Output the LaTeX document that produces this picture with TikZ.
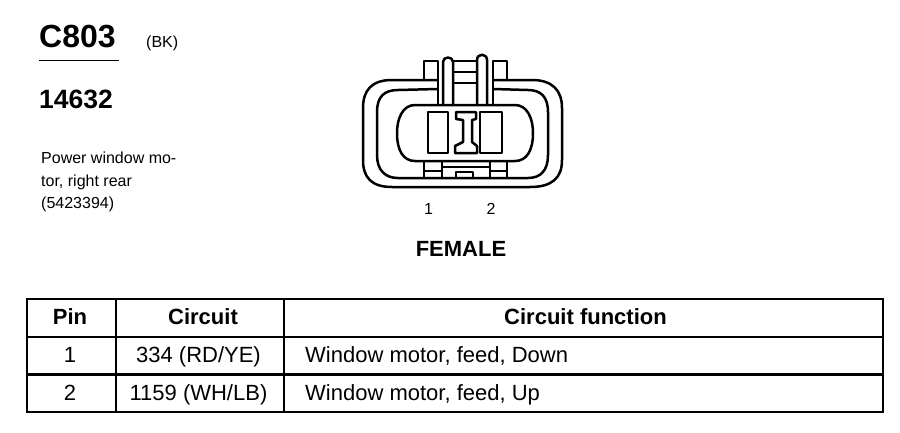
\documentclass[tikz,border=0pt]{standalone}
\usepackage{fontspec}
\setmainfont{Liberation Sans}
\tikzset{
  thick line/.style={line width=2.5pt,line join=round},
  cell/.style={anchor=base,inner sep=0pt,font=\fontsize{22}{24}\selectfont},
  head/.style={cell,font=\fontsize{22}{24}\selectfont\bfseries},
  rule/.style={line width=2.6pt},
  small/.style={anchor=base west,inner sep=0pt,font=\fontsize{16}{18}\selectfont},
}
\begin{document}
\begin{tikzpicture}[x=1pt,y=-1pt]
\useasboundingbox (0,0) rectangle (900,432);
\node[anchor=base west,inner sep=0pt,font=\fontsize{32}{34}\selectfont\bfseries] (title) at (39,47.500) {C803};
\node[small] (bk) at (146,47) {(BK)};
\coordinate (ta) at (39,60.5); \coordinate (tb) at (119,60.5);
\draw[line width=1.3pt] (ta) -- (tb);
\node[anchor=base west,inner sep=0pt,font=\fontsize{26.5}{28}\selectfont\bfseries] (num) at (39,108) {14632};
\node[small] (d1) at (41,163.500) {Power window mo-};
\node[small] (d2) at (41,186) {tor, right rear};
\node[small] (d3) at (41,208) {(5423394)};
% connector
\begin{scope}[thick line]
 \draw (438,80) -- (392,80) .. controls (372,80) and (363,90) .. (363,108) -- (363,160) .. controls (363,178) and (372,187) .. (392,187) -- (530,187) .. controls (552,187) and (562,178) .. (562,160) -- (562,108) .. controls (562,90) and (552,80) .. (532,80) -- (493,80);
 \draw (438,89) -- (398,90) .. controls (384,90) and (377,97) .. (377,112) -- (377,155) .. controls (377,170) and (385,178) .. (398,178) -- (528,178) .. controls (541,178) and (548,170) .. (548,155) -- (548,112) .. controls (548,97) and (541,90) .. (528,90) -- (493,89);
 \draw (415,105) -- (515,105) .. controls (527,105) and (533,118) .. (533,133) .. controls (533,150) and (527,161) .. (515,161) -- (415,161) .. controls (403,161) and (397,150) .. (397,133) .. controls (397,118) and (403,105) .. (415,105) -- cycle;
 \draw (428,112) rectangle (448,153);
 \draw (480,112) rectangle (502,153);
 \draw (456,112) -- (476,112) -- (476,119) -- (472,120) -- (472,142) -- (477,146) -- (477,153) -- (455,153) -- (455,146) -- (463,142) -- (463,120) -- (456,119) -- cycle;
 % top tabs
 \draw (438,80) -- (438,61) -- (424,61) -- (424,80);
 \draw (493,80) -- (493,61) -- (507,61) -- (507,80);
 \draw (438,80) -- (438,104); \draw (493,80) -- (493,104);
 \draw (443,104) -- (443,62) .. controls (443,56) and (453,56) .. (453,62) -- (453,104);
 \draw (477,104) -- (477,60) .. controls (477,53) and (487,53) .. (487,60) -- (487,104);
 \draw (453,61) -- (477,61); \draw (453,72) -- (477,72); \draw (453,83) -- (477,83);
 % bottom
 \draw (424,161) -- (424,178); \draw (442,161) -- (442,178);
 \draw (424,171) -- (442,171);
 \draw (490,161) -- (490,178); \draw (507,161) -- (507,178); \draw (490,171) -- (507,171);
 \draw (442,167) -- (490,167);
 \draw (456,178) -- (456,172) -- (473,172) -- (473,178);
\end{scope}
\node[cell,font=\fontsize{16}{18}\selectfont] (p1) at (428.5,214) {1};
\node[cell,font=\fontsize{16}{18}\selectfont] (p2) at (491,214) {2};
\node[cell,font=\fontsize{22}{24}\selectfont\bfseries] (fem) at (461,256.500) {FEMALE};
% table
\draw[rule] (27,299) rectangle (883,412);
\draw[rule] (27,337) -- (883,337);
\draw[rule] (27,374.500) -- (883,374.500);
\draw[rule] (116,299) -- (116,412);
\draw[rule] (284,299) -- (284,412);
\node[head] (h1) at (70,324.500) {Pin};
\node[head] (h2) at (203,324.500) {Circuit};
\node[head] (h3) at (585.500,324.500) {Circuit function};
\node[cell] (a1) at (70,362.500) {1};
\node[cell] (a2) at (198.500,362.500) {334 (RD/YE)};
\node[cell,anchor=base west] (a3) at (305,362.500) {Window motor, feed, Down};
\node[cell] (b1) at (70,400) {2};
\node[cell] (b2) at (198.500,400) {1159 (WH/LB)};
\node[cell,anchor=base west] (b3) at (305,400) {Window motor, feed, Up};
\end{tikzpicture}
\end{document}
